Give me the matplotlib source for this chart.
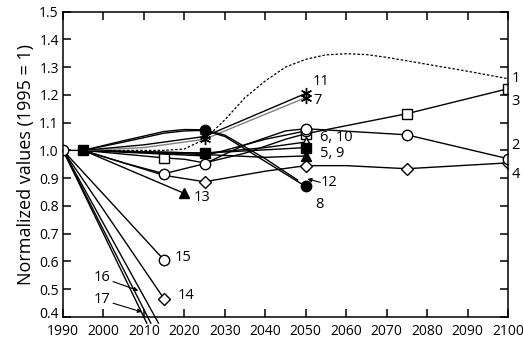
import matplotlib
matplotlib.use("Agg")
import matplotlib.pyplot as plt
from matplotlib.transforms import ScaledTranslation

plt.rcParams['font.family'] = ['Open Sans', 'DejaVu Sans']

# --- data -------------------------------------------------------------
s1_years = [1995, 2005, 2015, 2020, 2025, 2030, 2035, 2040, 2045, 2050, 2055, 2060, 2065, 2070, 2080, 2090, 2100]
s1_vals  = [1.0, 1.0, 1.0, 1.005, 1.04, 1.11, 1.19, 1.25, 1.30, 1.328, 1.344, 1.348, 1.345, 1.335, 1.31, 1.285, 1.258]

s2_years = [1990, 1995, 2005, 2015, 2025, 2035, 2045, 2050, 2075, 2100]
s2_vals  = [1.0, 1.0, 0.955, 0.916, 0.952, 1.02, 1.07, 1.078, 1.056, 0.97]
s2_marks = [0, 3, 4, 7, 8, 9]

s3_years = [1995, 2015, 2020, 2025, 2035, 2045, 2050, 2075, 2100]
s3_vals  = [1.0, 0.973, 0.968, 0.955, 0.99, 1.04, 1.06, 1.132, 1.222]
s3_marks = [1, 6, 7, 8]

s4_years = [1995, 2005, 2015, 2025, 2040, 2050, 2060, 2075, 2100]
s4_vals  = [1.0, 0.955, 0.91, 0.887, 0.925, 0.945, 0.945, 0.934, 0.955]
s4_marks = [3, 5, 7, 8]

s5_years = [1995, 2025, 2050]
s5_vals  = [1.0, 0.99, 1.01]

s6_years = [1995, 2010, 2025, 2040, 2050]
s6_vals  = [1.0, 0.99, 0.98, 1.04, 1.07]

s7_years = [1995, 2010, 2025, 2050]
s7_vals  = [1.0, 1.01, 1.04, 1.19]

s8_years = [1995, 2005, 2015, 2020, 2025, 2030, 2040, 2050]
s8_vals  = [1.0, 1.03, 1.062, 1.07, 1.072, 1.05, 0.96, 0.87]

s9_years = [1995, 2025, 2040, 2050]
s9_vals  = [1.0, 0.985, 0.975, 0.98]

s10_years = [1995, 2010, 2025, 2040, 2050]
s10_vals  = [1.0, 0.995, 0.99, 1.01, 1.03]

s11_years = [1995, 2010, 2025, 2050]
s11_vals  = [1.0, 1.02, 1.05, 1.205]

s12_years = [1995, 2005, 2015, 2020, 2025, 2030, 2040, 2048]
s12_vals  = [1.0, 1.035, 1.068, 1.075, 1.074, 1.055, 0.97, 0.893]

s13_years = [1995, 2020]
s13_vals  = [1.0, 0.845]

s14_years = [1990, 2015]
s14_vals  = [1.0, 0.465]

s15_years = [1990, 2015]
s15_vals  = [1.0, 0.605]

s16_years = [1990, 2011.7]
s16_vals  = [1.0, 0.378]

s16b_years = [1990, 2013.6]
s16b_vals  = [1.0, 0.378]

s17_years = [1990, 2010.7]
s17_vals  = [1.0, 0.378]

x_ticks = list(range(1990, 2101, 10))
y_ticks = [0.4, 0.5, 0.6, 0.7, 0.8, 0.9, 1.0, 1.1, 1.2, 1.3, 1.4, 1.5]
y_tick_labels = ['0.4', '0.5', '0.6', '0.7', '0.8', '0.9', '1.0', '1.1', '1.2', '1.3', '1.4', '1.5']

# --- figure -----------------------------------------------------------
fig = plt.figure(figsize=(5.23, 3.44), dpi=100)
ax = fig.add_axes([0.1205, 0.0785, 0.8508, 0.888])

lw = 1.0
ms = 7.5
k = 'black'
open_kw = dict(markerfacecolor='white', markeredgecolor=k, markeredgewidth=1.0)

# steep declines from 1990
ax.plot(s17_years, s17_vals, color=k, lw=lw, clip_on=False)
ax.plot(s16_years, s16_vals, color=k, lw=lw, clip_on=False)
ax.plot(s16b_years, s16b_vals, color=k, lw=lw, clip_on=False)
ax.plot(s14_years, s14_vals, color=k, lw=lw, marker='D', ms=6.5, markevery=[1], **open_kw)
ax.plot(s15_years, s15_vals, color=k, lw=lw, marker='o', ms=ms, markevery=[1], **open_kw)

# dotted series 1
ax.plot(s1_years, s1_vals, color=k, lw=0.9, ls=(0, (2, 1.5)))

ax.plot(s13_years, s13_vals, color=k, lw=lw, marker='^', ms=ms, markevery=[1],
        markerfacecolor=k, markeredgecolor=k)
ax.plot(s4_years, s4_vals, color=k, lw=lw, marker='D', ms=6.5, markevery=s4_marks, **open_kw)
ax.plot(s3_years, s3_vals, color=k, lw=lw, marker='s', ms=ms, markevery=s3_marks, **open_kw)
ax.plot(s9_years, s9_vals, color=k, lw=lw, marker='^', ms=ms, markevery=[3],
        markerfacecolor=k, markeredgecolor=k)
ax.plot(s10_years, s10_vals, color=k, lw=lw, marker='^', ms=ms, markevery=[4], **open_kw)
ax.plot(s6_years, s6_vals, color=k, lw=lw, marker='o', ms=ms, markevery=[4], **open_kw)
ax.plot(s5_years, s5_vals, color=k, lw=lw, marker='s', ms=ms, markevery=[0, 1, 2],
        markerfacecolor=k, markeredgecolor=k)
ax.plot(s7_years, s7_vals, color='#808080', lw=lw, marker=(6, 2, 0), ms=8, markevery=[2, 3],
        markeredgecolor=k, markeredgewidth=1.0)
ax.plot(s11_years, s11_vals, color=k, lw=lw, marker=(6, 2, 0), ms=8, markevery=[2, 3],
        markeredgecolor=k, markeredgewidth=1.0)
ax.plot(s12_years, s12_vals, color=k, lw=lw)
ax.plot(s8_years, s8_vals, color=k, lw=lw, marker='o', ms=ms, markevery=[4, 7],
        markerfacecolor=k, markeredgecolor=k)
ax.plot(s2_years, s2_vals, color=k, lw=lw, marker='o', ms=ms, markevery=s2_marks, **open_kw)

# --- labels on the series --------------------------------------------
fs = 10.5
ax.text(2100.8, 1.258, '1', fontsize=fs, va='center', ha='left', clip_on=False)
ax.text(2100.8, 1.175, '3', fontsize=fs, va='center', ha='left', clip_on=False)
ax.text(2100.8, 1.017, '2', fontsize=fs, va='center', ha='left', clip_on=False)
ax.text(2100.8, 0.912, '4', fontsize=fs, va='center', ha='left', clip_on=False)
ax.text(2051.8, 1.247, '11', fontsize=fs, va='center', ha='left')
ax.text(2052.0, 1.180, '7', fontsize=fs, va='center', ha='left')
ax.text(2053.5, 1.045, '6, 10', fontsize=fs, va='center', ha='left')
ax.text(2053.5, 0.988, '5, 9', fontsize=fs, va='center', ha='left')
ax.text(2053.8, 0.883, '12', fontsize=fs, va='center', ha='left')
ax.text(2053.3, 0.804, '8', fontsize=fs, va='center', ha='center')
ax.text(2022.2, 0.832, '13', fontsize=fs, va='center', ha='left')
ax.text(2017.6, 0.613, '15', fontsize=fs, va='center', ha='left')
ax.text(2018.3, 0.476, '14', fontsize=fs, va='center', ha='left')

arrow = dict(arrowstyle='-|>', color=k, lw=0.8, mutation_scale=6, shrinkA=0, shrinkB=0)
ax.annotate('', xy=(2050.4, 0.897), xytext=(2053.6, 0.885), arrowprops=arrow)
ax.annotate('16', xy=(2008.6, 0.495), xytext=(1999.6, 0.542), fontsize=fs, va='center',
            ha='center', arrowprops=arrow)
ax.annotate('17', xy=(2009.5, 0.418), xytext=(1999.6, 0.462), fontsize=fs, va='center',
            ha='center', arrowprops=arrow)

# --- axes styling -----------------------------------------------------
ax.set_xlim(1990, 2100)
ax.set_ylim(0.4, 1.5)
ax.set_xticks(x_ticks)
ax.set_yticks(y_ticks)
ax.set_yticklabels(y_tick_labels)
ax.tick_params(direction='in', length=6, width=1.1, labelsize=10, top=True, right=True,
               labeltop=False, labelright=False)
ax.tick_params(axis='x', pad=5)
ax.tick_params(axis='y', pad=3)
for sp in ax.spines.values():
    sp.set_linewidth(1.1)
ax.set_ylabel('Normalized values (1995 = 1)', fontsize=13, labelpad=3)

# lift the lowest y label a little so it clears the first year label
lbl = ax.get_yticklabels()[0]
lbl.set_transform(lbl.get_transform() + ScaledTranslation(0, 3 / 72, fig.dpi_scale_trans))

fig.savefig('out.png', dpi=100)
